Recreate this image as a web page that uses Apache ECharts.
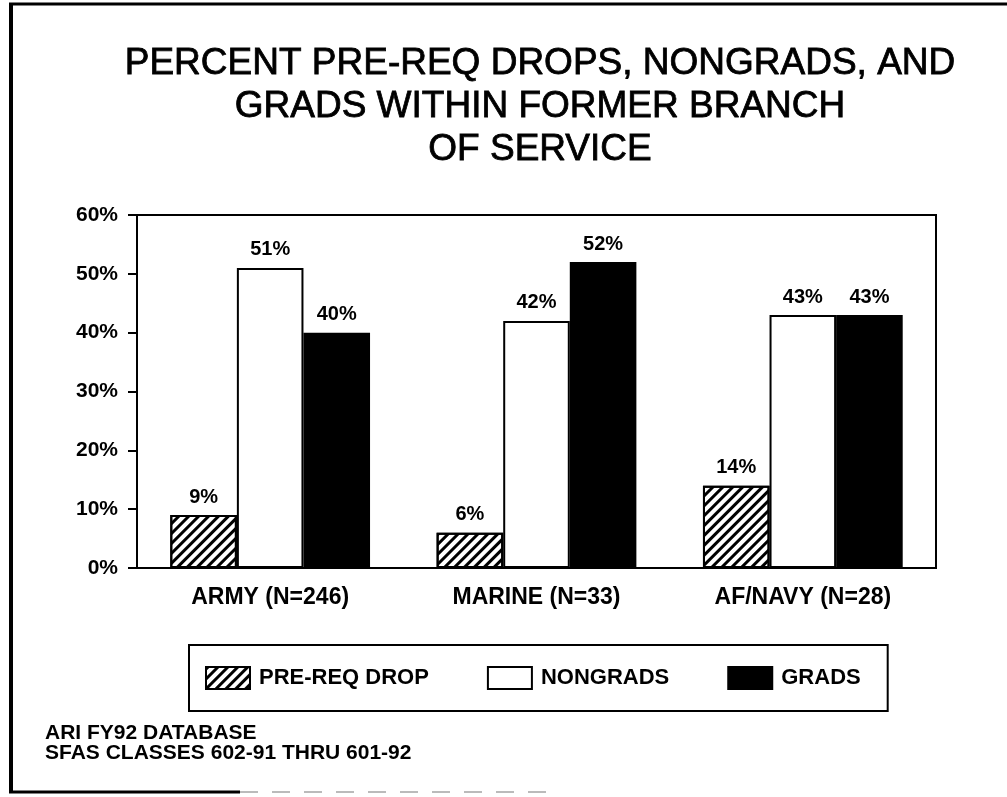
<!DOCTYPE html>
<html>
<head>
<meta charset="utf-8">
<title>Percent pre-req drops, nongrads and grads</title>
<script src="https://cdn.jsdelivr.net/npm/echarts@6/dist/echarts.min.js"></script>
<style>
  html, body { margin: 0; padding: 0; background: #fff; }
  #chart { width: 1007px; height: 797px; }
</style>
</head>
<body>
<div id="chart"></div>
<script>
const branches = ['ARMY (N=246)', 'MARINE (N=33)', 'AF/NAVY (N=28)']
const seriesNames = ['PRE-REQ DROP', 'NONGRADS', 'GRADS']
const preReqDrop = [9, 6, 14]
const nongrads = [51, 42, 43]
const grads = [40, 52, 43]
const yTicks = [0, 10, 20, 30, 40, 50, 60]
const titleLines = ['PERCENT PRE-REQ DROPS, NONGRADS, AND', 'GRADS WITHIN FORMER BRANCH', 'OF SERVICE']
const footerLines = ['ARI FY92 DATABASE', 'SFAS CLASSES 602-91 THRU 601-92']

const font = "'Liberation Sans', Arial, sans-serif"

const chart = echarts.init(document.getElementById('chart'))

// stripes for the pre-req bars
const hatch = {
  symbol: 'rect',
  symbolSize: 1,
  color: '#000',
  dashArrayX: [1, 0],
  dashArrayY: [3, 4],
  rotation: -Math.PI / 4
}

const barLabel = {
  show: true,
  position: 'top',
  distance: 8,
  formatter: '{c}%',
  color: '#000',
  fontFamily: font,
  fontWeight: 'bold',
  fontSize: 20
}

function makeSeries(name, data, color, decal) {
  const itemStyle = { color: color, borderColor: '#000', borderWidth: 2 }
  if (decal) itemStyle.decal = decal
  return {
    name: name,
    type: 'bar',
    data: data,
    barGap: '0%',
    barCategoryGap: '25%',
    itemStyle: itemStyle,
    label: barLabel,
    animation: false
  }
}

chart.setOption({
  backgroundColor: '#fff',
  title: {
    text: titleLines.join('\n'),
    left: 540,
    top: 42,
    textAlign: 'center',
    padding: 0,
    textStyle: {
      fontFamily: font,
      fontSize: 37,
      fontWeight: 'normal',
      color: '#000',
      textBorderColor: '#000',
      textBorderWidth: 0.8,
      lineHeight: 43
    }
  },
  legend: {
    data: seriesNames,
    left: 189,
    top: 645,
    padding: [21, 27, 21, 16],
    itemGap: 58,
    itemWidth: 44,
    itemHeight: 22,
    icon: 'rect',
    borderColor: '#000',
    borderWidth: 2,
    itemStyle: { borderColor: '#000', borderWidth: 2 },
    textStyle: {
      fontFamily: font,
      fontWeight: 'bold',
      fontSize: 22,
      color: '#000',
      padding: [0, 0, 0, 4]
    }
  },
  grid: {
    left: 137,
    right: 71,
    top: 215,
    bottom: 229,
    show: true,
    borderColor: '#000',
    borderWidth: 2
  },
  xAxis: {
    type: 'category',
    data: branches,
    axisLine: { lineStyle: { color: '#000', width: 2 } },
    axisTick: { alignWithLabel: true, length: 10, lineStyle: { color: '#000', width: 2 } },
    axisLabel: {
      margin: 18,
      color: '#000',
      fontFamily: font,
      fontWeight: 'bold',
      fontSize: 23
    }
  },
  yAxis: {
    type: 'value',
    min: yTicks[0],
    max: yTicks[yTicks.length - 1],
    interval: yTicks[1] - yTicks[0],
    splitLine: { show: false },
    axisLine: { show: true, lineStyle: { color: '#000', width: 2 } },
    axisTick: { show: true, length: 9, lineStyle: { color: '#000', width: 2 } },
    axisLabel: {
      margin: 19,
      formatter: '{value}%',
      color: '#000',
      fontFamily: font,
      fontWeight: 'bold',
      fontSize: 21
    }
  },
  graphic: [
    // page frame from the scanned sheet
    { type: 'line', shape: { x1: 11, y1: 3, x2: 11, y2: 793 }, style: { stroke: '#000', lineWidth: 4 } },
    { type: 'line', shape: { x1: 9, y1: 4, x2: 1007, y2: 4 }, style: { stroke: '#000', lineWidth: 3 } },
    { type: 'line', shape: { x1: 9, y1: 792, x2: 240, y2: 792 }, style: { stroke: '#000', lineWidth: 3 } },
    { type: 'line', shape: { x1: 240, y1: 792, x2: 560, y2: 792 }, style: { stroke: '#bbb', lineWidth: 2, lineDash: [18, 14] } },
    {
      type: 'text',
      left: 45,
      top: 723,
      style: {
        text: footerLines.join('\n'),
        fill: '#000',
        font: 'bold 21px ' + font,
        lineHeight: 20
      }
    }
  ],
  series: [
    makeSeries(seriesNames[0], preReqDrop, '#fff', hatch),
    makeSeries(seriesNames[1], nongrads, '#fff'),
    makeSeries(seriesNames[2], grads, '#000')
  ]
})
</script>
</body>
</html>
